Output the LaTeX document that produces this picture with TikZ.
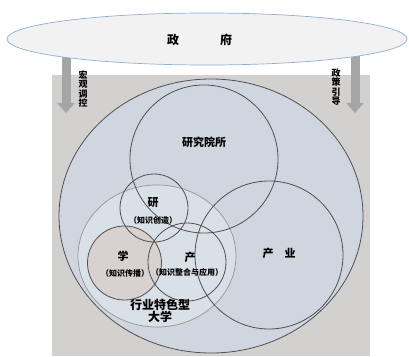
\documentclass[tikz,border=0pt]{standalone}
\usepackage{fontspec}
\setmainfont{Noto Sans CJK SC}
\usepackage{xcolor}
\usetikzlibrary{arrows.meta,shapes.geometric}
\definecolor{cback}{RGB}{211,208,208}
\definecolor{cblue}{RGB}{207,214,223}
\definecolor{clight}{RGB}{218,224,231}
\definecolor{cbeige}{RGB}{215,209,207}
\definecolor{cline}{RGB}{80,80,80}
\definecolor{carrow}{RGB}{165,165,165}
\definecolor{cgov}{RGB}{242,242,242}
\definecolor{cgovline}{RGB}{143,176,208}

\begin{document}
\begin{tikzpicture}[x=1pt, y=-1pt,
  ring/.style={circle, draw=cline, line width=0.8pt, inner sep=0pt},
  lab/.style={font=\bfseries\fontsize{11}{12}\selectfont, align=center, inner sep=0pt},
  sub/.style={font=\bfseries\fontsize{8}{9}\selectfont, inner sep=0pt},
  vtxt/.style={font=\bfseries\fontsize{9}{9.6}\selectfont, align=center, inner sep=0pt},
  fat/.style={-{Triangle[length=10pt, width=17pt]}, line width=9pt, draw=carrow}]
\useasboundingbox (0,0) rectangle (409,356);
\fill[cback] (52,75) rectangle (370,356);
% arrows from the government
\coordinate (la) at (66,50);
\coordinate (lb) at (66,113);
\coordinate (ra) at (355,50);
\coordinate (rb) at (355,113);
\draw[fat] (la) -- (lb);
\draw[fat] (ra) -- (rb);
\node[ellipse, draw=cgovline, fill=cgov, line width=0.7pt,
      minimum width=400pt, minimum height=52pt] (gov) at (207,39) {};
\node[lab, font=\bfseries\fontsize{12}{13}\selectfont] (govtxt) at (199.5,40) {政\hspace{41pt}府};
\node[vtxt] (hg) at (83,89) {宏\\观\\调\\控};
\node[vtxt] (zc) at (336,87) {政\\策\\引\\导};
% circles
\node[ellipse, draw=cline, fill=cblue, line width=0.8pt,
      minimum width=304pt, minimum height=274pt] (whole) at (211,216) {};
\node[ellipse, draw=cline!60, fill=clight, line width=0.7pt,
      minimum width=158pt, minimum height=142pt] (univ) at (157,256) {};
\node[ring, fill=cbeige, minimum size=74pt] (xue) at (124.5,263) {};
\node[ring, minimum size=148pt] (inst) at (204,159) {};
\node[ring, minimum size=68pt] (yan) at (154,208) {};
\node[ring, minimum size=78pt] (chan) at (187,262) {};
\node[ring, minimum size=148pt] (ind) at (269,255) {};
% labels
\node[lab] (insttxt) at (204,142) {研究院所};
\node[lab] (yantxt) at (153,203) {研};
\node[sub] (yansub) at (153,220) {（知识创造）};
\node[lab] (xuetxt) at (123,256) {学};
\node[sub] (xuesub) at (125,273) {（知识传播）};
\node[lab] (chantxt) at (190,257) {产};
\node[sub] (chansub) at (187,272) {（知识整合与应用）};
\node[lab] (indtxt) at (279,253) {产\hspace{11pt}业};
\node[lab, font=\bfseries\fontsize{12}{12.5}\selectfont] (univtxt) at (160,311) {行业特色型\\大学};
\end{tikzpicture}
\end{document}
